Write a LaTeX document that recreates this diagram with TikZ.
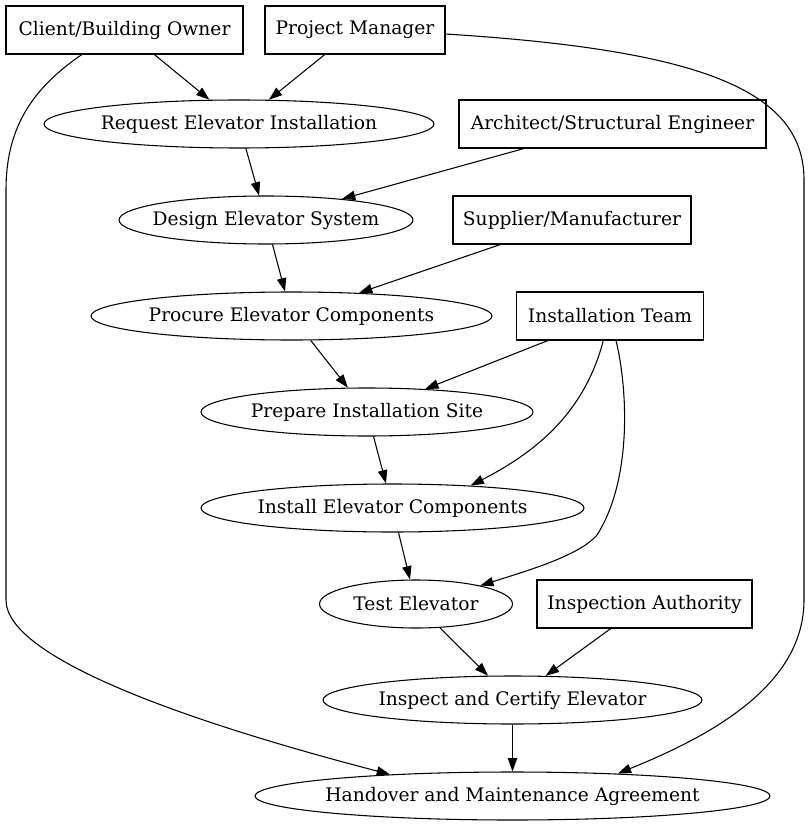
\documentclass[tikz,border=0pt]{standalone}
\usepackage{fontspec}
\setmainfont{DejaVu Serif}
\usepackage{tikz}
\usetikzlibrary{positioning,shapes.geometric,arrows.meta}

\tikzset{
  box/.style={draw, rectangle, minimum height=36pt, inner sep=0pt},
  oval/.style={draw, ellipse, minimum height=36pt, inner ysep=0pt, inner xsep=-8pt},
  arr/.style={-{Triangle[length=10pt,width=7pt]}},
}

\begin{document}
\begin{tikzpicture}[x=0.75pt, y=-0.75pt, line width=0.8pt,
    every node/.style={font=\fontsize{14}{17}\selectfont}]
  \useasboundingbox (0,0) rectangle (812,827);

  % ---------------- actors (boxes) ----------------
  \node[box, minimum width=177.75pt] (client) at (124.5,30)  {Client/Building Owner};
  \node[box, minimum width=135pt]    (pm)     at (355,30)    {Project Manager};
  \node[box, minimum width=230.25pt] (arch)   at (612.5,124) {Architect/Structural Engineer};
  \node[box, minimum width=178.5pt]  (supp)   at (572,220)   {Supplier/Manufacturer};
  \node[box, minimum width=140pt]    (team)   at (610,316)   {Installation Team};
  \node[box, minimum width=161.25pt] (insp)   at (644.5,604) {Inspection Authority};

  % ---------------- process steps (ellipses) ----------------
  \node[oval, minimum width=292.5pt]  (req)    at (239,124)   {Request Elevator Installation};
  \node[oval, minimum width=220.5pt]  (design) at (266,220)   {Design Elevator System};
  \node[oval, minimum width=300.75pt] (proc)   at (291.5,316) {Procure Elevator Components};
  \node[oval, minimum width=249pt]    (prep)   at (367,412)   {Prepare Installation Site};
  \node[oval, minimum width=287.25pt] (inst)   at (392.5,508) {Install Elevator Components};
  \node[oval, minimum width=144.75pt] (test)   at (416,604)   {Test Elevator};
  \node[oval, minimum width=284.25pt] (cert)   at (512.5,700) {Inspect and Certify Elevator};
  \node[oval, minimum width=386.25pt] (hand)   at (512.5,796) {Handover and Maintenance Agreement};

  % ---------------- main flow ----------------
  \draw[arr] (client) -- (req);
  \draw[arr] (pm) -- (req);
  \draw[arr] (req) -- (design);
  \draw[arr] (arch) -- (design);
  \draw[arr] (design) -- (proc);
  \draw[arr] (supp) -- (proc);
  \draw[arr] (proc) -- (prep);
  \draw[arr] (team) -- (prep);
  \draw[arr] (prep) -- (inst);
  \draw[arr] (inst) -- (test);
  \draw[arr] (test) -- (cert);
  \draw[arr] (insp) -- (cert);
  \draw[arr] (cert) -- (hand);

  % ---------------- curved edges ----------------
  \draw[arr] ([xshift=-5pt]team.south) .. controls (585,410) and (540,450) .. (inst.16);
  \draw[arr] ([xshift=4.5pt]team.south) .. controls (628,390) and (632,480) .. (597,535)
     .. controls (580,555) and (530,570) .. (test.16);
  \draw[arr] ([xshift=-32pt]client.south) .. controls (30,90) and (6,130) .. (6,190)
     -- (6,600) .. controls (6,660) and (200,725) .. (hand.170);
  \draw[arr] ([yshift=-3pt]pm.east) .. controls (700,50) and (804,90) .. (804,180)
     -- (804,600) .. controls (804,690) and (700,740) .. (hand.12);
\end{tikzpicture}
\end{document}
